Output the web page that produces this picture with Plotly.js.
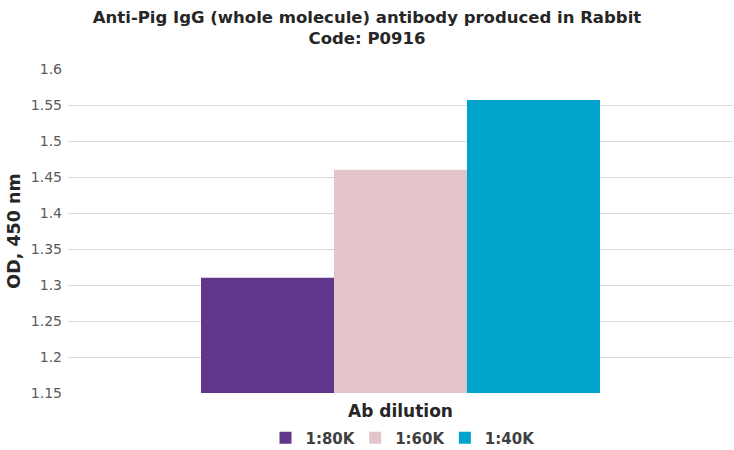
<!DOCTYPE html>
<html>
<head>
<meta charset="utf-8">
<script src="https://cdn.plot.ly/plotly-3.0.1.min.js"></script>
<style>
  html, body { margin: 0; padding: 0; background: #fff; }
  #chart { width: 734px; height: 450px; }
</style>
</head>
<body>
<div id="chart"></div>
<script>
// values
const category = ["Ab dilution"];
const seriesNames = ["1:80K", "1:60K", "1:40K"];
const seriesValues = [1.31, 1.46, 1.557];
const seriesColors = ["#61378b", "#e4c4cb", "#00a3cc"];
const yTicks = [1.15, 1.2, 1.25, 1.3, 1.35, 1.4, 1.45, 1.5, 1.55, 1.6];

const fontFamily = "DejaVu Sans, Verdana, sans-serif";

let data = [];
for (let i = 0; i < seriesNames.length; i++) {
	data.push({
		type: "bar",
		x: category,
		y: [seriesValues[i]],
		name: seriesNames[i],
		marker: {color: seriesColors[i]},
		hoverinfo: "y+name"
	});
}

let layout = {
	width: 734,
	height: 450,
	margin: {l: 68, r: 1, t: 69, b: 57, autoexpand: false},
	paper_bgcolor: "#ffffff",
	plot_bgcolor: "#ffffff",
	font: {family: fontFamily, color: "#595959"},
	title: {
		text: "<b>Anti-Pig IgG (whole molecule) antibody produced in Rabbit<br>Code: P0916</b>",
		font: {size: 16.5, color: "#262626", family: fontFamily},
		x: 0.5,
		xanchor: "center",
		y: 0.95,
		yanchor: "top"
	},
	barmode: "group",
	bargap: 0.4,
	bargroupgap: 0,
	xaxis: {
		showticklabels: false,
		showgrid: false,
		zeroline: false,
		showline: false,
		ticks: "",
		title: {
			text: "<b>Ab dilution</b>",
			font: {size: 17, color: "#262626"},
			standoff: 12
		}
	},
	yaxis: {
		range: [1.15, 1.6],
		tickvals: yTicks,
		ticktext: yTicks.map(String),
		tickfont: {size: 14, color: "#595959"},
		ticklabelstandoff: 5,
		showgrid: true,
		gridcolor: "#d9d9d9",
		gridwidth: 1,
		zeroline: false,
		showline: false,
		ticks: "",
		ticklen: 0,
		title: {
			text: "<b>OD, 450 nm</b>",
			font: {size: 17.5, color: "#262626"},
			standoff: 5
		}
	},
	showlegend: true,
	legend: {
		orientation: "h",
		x: 0.5,
		xanchor: "center",
		y: -0.139,
		yanchor: "middle",
		font: {size: 15, color: "#404040"},
		itemwidth: 30,
		traceorder: "normal"
	}
};

Plotly.newPlot("chart", data, layout, {displayModeBar: false, staticPlot: true}).then(function() {
	// make legend labels bold like the reference
	document.querySelectorAll(".legendtext").forEach(function(t) {
		t.style.fontWeight = "bold";
	});
});
</script>
</body>
</html>
